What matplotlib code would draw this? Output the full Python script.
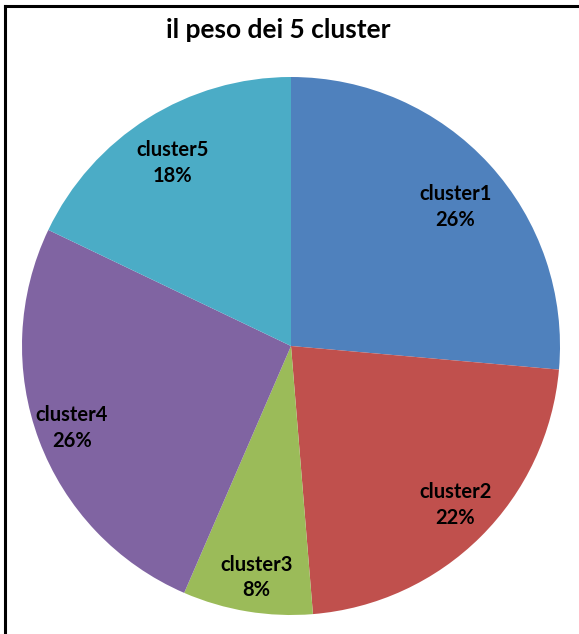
import numpy as np
import matplotlib
matplotlib.use('Agg')
import matplotlib.pyplot as plt
from matplotlib.lines import Line2D

# data (labels show rounded values)
clusters = ['cluster1', 'cluster2', 'cluster3', 'cluster4', 'cluster5']
pesi = [26.4, 22.3, 7.8, 25.6, 17.9]
colori = ['#4F81BD', '#C0504D', '#9BBB59', '#8064A2', '#4BACC6']
titolo = 'il peso dei 5 cluster'

W, H = 579, 634
fig = plt.figure(figsize=(W / 100, H / 100), dpi=100)
fig.patch.set_facecolor('white')

ax = fig.add_axes([0, 0, 1, 1])
cx, cy, r = 291, H - 346, 269
wedges, _ = ax.pie(pesi, colors=colori, startangle=90, counterclock=False,
                   center=(cx, cy), radius=r, frame=True,
                   wedgeprops=dict(linewidth=0))
ax.set_xlim(0, W)
ax.set_ylim(0, H)
ax.set_aspect('auto')
ax.set_axis_off()

# label distance (fraction of radius) and small angle shifts, Excel "best fit"
dist = [0.80, 0.85, 0.87, 0.87, 0.81]
shift = [-2.2, 1.1, 0.8, 0, 0.6]
tot = sum(pesi)
for w, nome, p, d, s in zip(wedges, clusters, pesi, dist, shift):
    ang = np.deg2rad((w.theta1 + w.theta2) / 2 + s)
    x = cx + d * r * np.cos(ang)
    y = cy + d * r * np.sin(ang)
    ax.text(x, y, '%s\n%.0f%%' % (nome, 100 * p / tot), ha='center', va='center',
            fontsize=14.5, fontweight='bold', family='Lato', linespacing=1.35,
            color='black')

fig.text(278 / W, 1 - 30 / H, titolo, ha='center', va='center',
         fontsize=19, fontweight='bold', family='Lato')

# chart border (top and left visible)
fig.add_artist(Line2D([5 / W, 1], [1 - 6 / H, 1 - 6 / H], color='black', lw=2.2))
fig.add_artist(Line2D([5 / W, 5 / W], [0, 1 - 6 / H], color='black', lw=2.2))

fig.savefig('out.png', dpi=100)
